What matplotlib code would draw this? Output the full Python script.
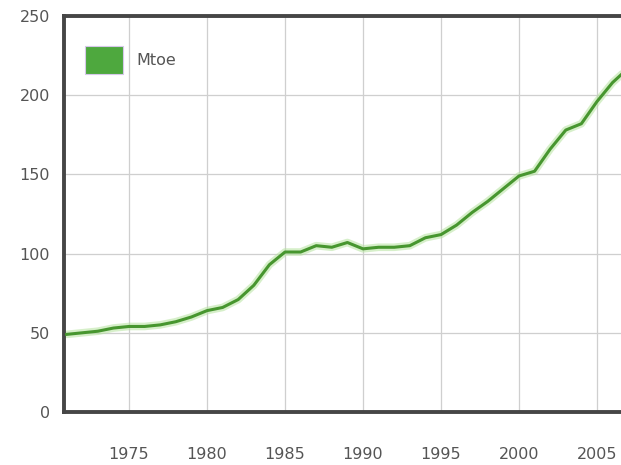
import numpy as np
import matplotlib
matplotlib.use('Agg')
import matplotlib.pyplot as plt
from matplotlib.patches import Patch

# ── Data ──────────────────────────────────────────────────────────────────────
years = list(range(1971, 2008))
mtoe = [49, 50, 51, 53, 54, 54, 55, 57, 60, 64,
        66, 71, 80, 93, 101, 101, 105, 104, 107, 103,
        104, 104, 105, 110, 112, 118, 126, 133, 141, 149,
        152, 166, 178, 182, 196, 208, 217]
xticks = [1975, 1980, 1985, 1990, 1995, 2000, 2005]
yticks = [0, 50, 100, 150, 200, 250]

line_color = '#47962f'
text_color = '#555555'
spine_color = '#464646'

fig = plt.figure(figsize=(6.21, 4.65), dpi=100)
ax = fig.add_axes([64 / 621, 1 - 412 / 465, 1 - 64 / 621, (412 - 16) / 465])

# soft glow under the line
ax.plot(years, mtoe, color='#b5e39e', linewidth=5.5, alpha=0.55, zorder=2,
        solid_capstyle='round')
ax.plot(years, mtoe, color=line_color, linewidth=2.2, zorder=3,
        solid_joinstyle='round')

ax.set_xlim(1970.83, 2006.54)
ax.set_ylim(0, 250)
ax.set_xticks(xticks)
ax.set_yticks(yticks)
ax.tick_params(axis='both', length=0, labelsize=11.5, labelcolor=text_color)
ax.tick_params(axis='x', pad=25)
ax.tick_params(axis='y', pad=10)

ax.grid(color='#cfcfcf', linewidth=0.9)
ax.set_axisbelow(True)

for side in ['left', 'top', 'bottom']:
    ax.spines[side].set_color(spine_color)
    ax.spines[side].set_linewidth(2.8)
ax.spines['right'].set_visible(False)

handle = Patch(facecolor='#4ea83e', edgecolor='#d6c8ea', linewidth=0.8)
leg = ax.legend([handle], ['Mtoe'], loc='upper left', frameon=False,
                fontsize=11.5, handlelength=2.4, handleheight=2.3,
                handletextpad=0.8, borderaxespad=0,
                bbox_to_anchor=(0.026, 0.94))
for t in leg.get_texts():
    t.set_color(text_color)

fig.savefig('out.png', dpi=100)
